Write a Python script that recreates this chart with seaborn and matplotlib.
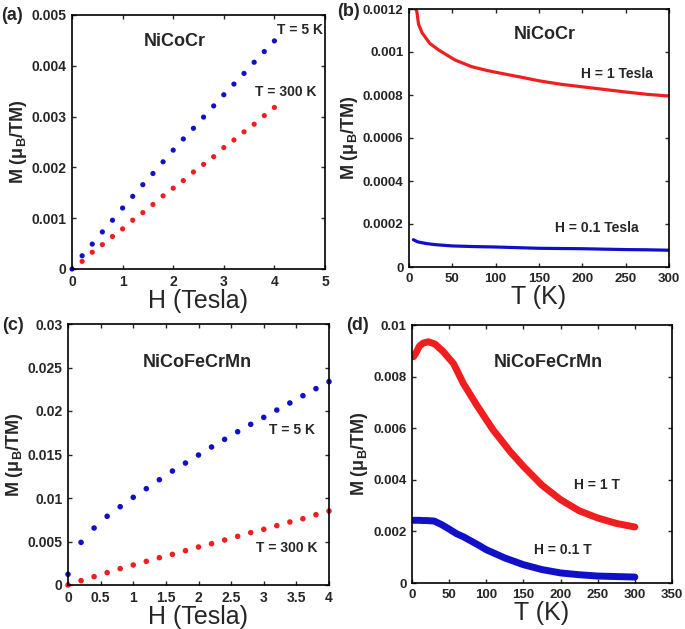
import matplotlib
matplotlib.use("Agg")
import matplotlib.pyplot as plt
import seaborn as sns

#########################
#         DATA          #
#########################
# (a) NiCoCr, M vs H
h_a = [0.0, 0.2, 0.4, 0.6, 0.8, 1.0, 1.2, 1.4, 1.6, 1.8, 2.0,
       2.2, 2.4, 2.6, 2.8, 3.0, 3.2, 3.4, 3.6, 3.8, 4.0]
m_a_5k = [0.0, 0.00026, 0.00049, 0.00073, 0.00096, 0.0012, 0.00143, 0.00166, 0.00188, 0.00211, 0.00234,
          0.00256, 0.00277, 0.00299, 0.00321, 0.00343, 0.00364, 0.00385, 0.00407, 0.00428, 0.00449]
h_a_300 = h_a[1:]
m_a_300k = [0.00015, 0.00033, 0.00048, 0.00064, 0.00079, 0.00096, 0.00111, 0.00127, 0.00144, 0.00159,
            0.00174, 0.00191, 0.00206, 0.00221, 0.00239, 0.00254, 0.0027, 0.00285, 0.00302, 0.00318]

# (b) NiCoCr, M vs T
t_b_1t = [6, 9, 11, 15, 24, 34, 53, 72, 90, 111, 128, 150, 175, 200, 225, 250, 275, 300]
m_b_1t = [0.00121, 0.00119, 0.00113, 0.00109, 0.00104, 0.00101, 0.000963, 0.000932, 0.000914, 0.000897,
          0.000884, 0.000866, 0.00085, 0.000838, 0.000826, 0.000814, 0.000803, 0.000795]
t_b_01t = [5, 10, 20, 30, 50, 75, 100, 125, 150, 175, 200, 225, 250, 275, 300]
m_b_01t = [0.000127, 0.000117, 0.000109, 0.000104, 0.000098, 0.000095, 0.000093, 0.00009,
           0.000087, 0.000086, 0.000085, 0.000083, 0.000081, 0.00008, 0.000078]

# (c) NiCoFeCrMn, M vs H
h_c = h_a
m_c_5k = [0.00123, 0.0049, 0.00655, 0.0079, 0.009, 0.01008, 0.01107, 0.0121, 0.0131, 0.01402, 0.01494,
          0.01586, 0.01674, 0.01762, 0.01847, 0.01927, 0.02011, 0.02092, 0.02176, 0.02257, 0.02337]
m_c_300k = [0.0, 0.0005, 0.00096, 0.00142, 0.00188, 0.0023, 0.00272, 0.00314, 0.00352, 0.00395, 0.00437,
            0.00475, 0.00517, 0.00559, 0.00602, 0.0064, 0.00682, 0.00724, 0.00762, 0.00808, 0.0085]

# (d) NiCoFeCrMn, M vs T
t_d_1t = [2, 5, 10, 15, 22, 31, 42, 56, 69, 87, 109, 132, 150, 175, 200, 225, 250, 275, 300]
m_d_1t = [0.00877, 0.0089, 0.00918, 0.0093, 0.00935, 0.00926, 0.00897, 0.0085, 0.00774, 0.0069, 0.00594,
          0.0051, 0.00452, 0.00379, 0.00323, 0.0028, 0.00252, 0.00231, 0.00217]
t_d_01t = [2, 5, 10, 15, 20, 25, 30, 40, 50, 60, 70, 80, 90, 100,
           125, 150, 175, 200, 225, 250, 275, 300]
m_d_01t = [0.00243, 0.00243, 0.00243, 0.00242, 0.00242, 0.00241, 0.0024, 0.00226, 0.00209, 0.00191, 0.00178,
           0.00162, 0.00146, 0.00129, 0.00097, 0.00071, 0.00052, 0.00039, 0.00032, 0.00027, 0.00025, 0.00023]

# ticks
xt_a = [0, 1, 2, 3, 4, 5]
yt_a = [0, 0.001, 0.002, 0.003, 0.004, 0.005]
yl_a = ['0', '0.001', '0.002', '0.003', '0.004', '0.005']
xt_b = [0, 50, 100, 150, 200, 250, 300]
yt_b = [0, 0.0002, 0.0004, 0.0006, 0.0008, 0.001, 0.0012]
yl_b = ['0', '0.0002', '0.0004', '0.0006', '0.0008', '0.001', '0.0012']
xt_c = [0, 0.5, 1, 1.5, 2, 2.5, 3, 3.5, 4]
xl_c = ['0', '0.5', '1', '1.5', '2', '2.5', '3', '3.5', '4']
yt_c = [0, 0.005, 0.01, 0.015, 0.02, 0.025, 0.03]
yl_c = ['0', '0.005', '0.01', '0.015', '0.02', '0.025', '0.03']
xt_d = [0, 50, 100, 150, 200, 250, 300, 350]
yt_d = [0, 0.002, 0.004, 0.006, 0.008, 0.01]
yl_d = ['0', '0.002', '0.004', '0.006', '0.008', '0.01']

#########################
#        STYLE          #
#########################
sns.set_style("ticks")
plt.rcParams['font.family'] = ['Liberation Sans', 'DejaVu Sans']
plt.rcParams['mathtext.fontset'] = 'custom'
plt.rcParams['mathtext.rm'] = 'Liberation Sans'
plt.rcParams['mathtext.bf'] = 'Liberation Sans:bold'

BLUE = '#1010c8'
RED = '#f01e1e'
YLAB = r'M ($\mathregular{\mu_B}$/TM)'

fig = plt.figure(figsize=(6.85, 6.29), dpi=100)
W, H = 685, 629


def make_ax(x0, y0, x1, y1):
    return fig.add_axes([x0 / W, 1 - y1 / H, (x1 - x0) / W, (y1 - y0) / H])


def style_ax(ax, xt, yt, yl, xl=None, xlabel='', tfs=9.5):
    ax.set_xticks(xt)
    ax.set_xticklabels(xl if xl else [str(v) for v in xt], fontweight='bold', fontsize=tfs)
    ax.set_yticks(yt)
    ax.set_yticklabels(yl, fontweight='bold', fontsize=tfs)
    ax.tick_params(direction='in', length=3, width=1, top=True, right=True, pad=4)
    for s in ax.spines.values():
        s.set_visible(True)
        s.set_linewidth(1.2)
        s.set_color('black')
    ax.set_xlabel(xlabel, fontsize=18, labelpad=0)
    ax.set_ylabel(YLAB, fontsize=13, fontweight='bold', labelpad=2)


ax_a = make_ax(72, 15, 325, 269)
ax_b = make_ax(409, 9, 669, 267)
ax_c = make_ax(68, 324, 329, 585)
ax_d = make_ax(412, 325, 672, 583)

# (a)
sns.scatterplot(x=h_a, y=m_a_5k, ax=ax_a, color=BLUE, s=14, edgecolor='none', clip_on=False)
sns.scatterplot(x=h_a_300, y=m_a_300k, ax=ax_a, color=RED, s=14, edgecolor='none')
ax_a.set_xlim(0, 5)
ax_a.set_ylim(0, 0.005)
style_ax(ax_a, xt_a, yt_a, yl_a, xlabel='H (Tesla)', tfs=10)
ax_a.text(2.04, 0.00447, 'NiCoCr', fontsize=13, fontweight='bold', ha='center', va='center')
ax_a.text(4.96, 0.0047, 'T = 5 K', fontsize=10, fontweight='bold', ha='right', va='center')
ax_a.text(4.84, 0.00348, 'T = 300 K', fontsize=10, fontweight='bold', ha='right', va='center')

# (b)
sns.lineplot(x=t_b_1t, y=m_b_1t, ax=ax_b, color=RED, linewidth=2.3)
sns.lineplot(x=t_b_01t, y=m_b_01t, ax=ax_b, color=BLUE, linewidth=2.3)
ax_b.set_xlim(0, 300)
ax_b.set_ylim(0, 0.0012)
style_ax(ax_b, xt_b, yt_b, yl_b, xlabel='T (K)')
ax_b.text(157, 0.00108, 'NiCoCr', fontsize=13, fontweight='bold', ha='center', va='center')
ax_b.text(281, 0.000898, 'H = 1 Tesla', fontsize=10, fontweight='bold', ha='right', va='center')
ax_b.text(265, 0.000181, 'H = 0.1 Tesla', fontsize=10, fontweight='bold', ha='right', va='center')

# (c)
sns.scatterplot(x=h_c, y=m_c_5k, ax=ax_c, color=BLUE, s=16, edgecolor='none', clip_on=False)
sns.scatterplot(x=h_c, y=m_c_300k, ax=ax_c, color=RED, s=16, edgecolor='none', clip_on=False)
ax_c.set_xlim(0, 4)
ax_c.set_ylim(0, 0.03)
style_ax(ax_c, xt_c, yt_c, yl_c, xl=xl_c, xlabel='H (Tesla)', tfs=10)
ax_c.text(1.98, 0.02552, 'NiCoFeCrMn', fontsize=13, fontweight='bold', ha='center', va='center')
ax_c.text(3.79, 0.0178, 'T = 5 K', fontsize=10, fontweight='bold', ha='right', va='center')
ax_c.text(3.83, 0.00425, 'T = 300 K', fontsize=10, fontweight='bold', ha='right', va='center')

# (d)
sns.lineplot(x=t_d_1t, y=m_d_1t, ax=ax_d, color=RED, linewidth=5)
sns.lineplot(x=t_d_01t, y=m_d_01t, ax=ax_d, color=BLUE, linewidth=5)
ax_d.set_xlim(0, 350)
ax_d.set_ylim(0, 0.01)
style_ax(ax_d, xt_d, yt_d, yl_d, xlabel='T (K)')
ax_d.text(183, 0.00853, 'NiCoFeCrMn', fontsize=13, fontweight='bold', ha='center', va='center')
ax_d.text(249, 0.0038, 'H = 1 T', fontsize=10, fontweight='bold', ha='center', va='center')
ax_d.text(203, 0.00128, 'H = 0.1 T', fontsize=10, fontweight='bold', ha='center', va='center')

# panel letters
for lab, px, py in [('(a)', 1, 15), ('(b)', 337, 12), ('(c)', 2, 325), ('(d)', 346, 326)]:
    fig.text(px / W, 1 - py / H, lab, fontsize=13, fontweight='bold', ha='left', va='center')

fig.savefig('out.png', dpi=100)
